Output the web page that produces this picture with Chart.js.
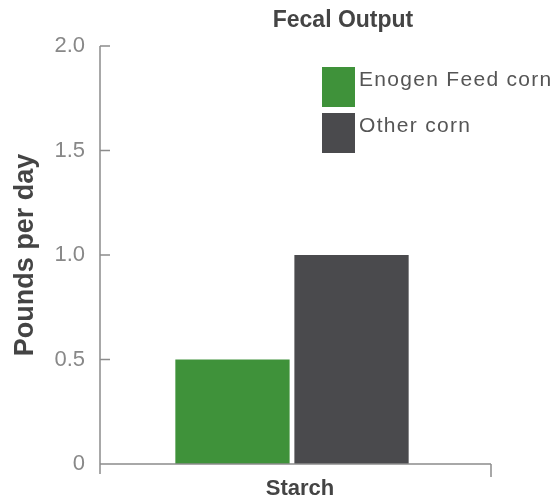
<!DOCTYPE html>
<html>
<head>
<meta charset="utf-8">
<script src="https://cdn.jsdelivr.net/npm/chart.js@4/dist/chart.umd.min.js"></script>
<style>
  html, body { margin: 0; padding: 0; background: #fff; }
  #wrap { width: 555px; height: 499px; }
</style>
</head>
<body>
<div id="wrap"><canvas id="c"></canvas></div>
<script>
// chart data
const chartTitle = 'Fecal Output';
const categories = ['Starch'];
const seriesNames = ['Enogen Feed corn', 'Other corn'];
const seriesValues = [[0.5], [1.0]];
const seriesColors = ['#3f923a', '#4a4a4d'];
const yTicks = [0, 0.5, 1.0, 1.5, 2.0];

const axisColor = '#8c8c8c';
const fontFamily = '"Liberation Sans", Arial, sans-serif';

// axis lines, inward tick marks, title and legend
const decorPlugin = {
  id: 'decorPlugin',
  afterDraw(chart) {
    const ctx = chart.ctx;
    const area = chart.chartArea;
    const y = chart.scales.y;
    ctx.save();
    ctx.strokeStyle = axisColor;
    ctx.lineWidth = 1.5;
    ctx.beginPath();
    ctx.moveTo(area.left, area.top);
    ctx.lineTo(area.left, area.bottom + 10);
    ctx.moveTo(area.left, area.bottom);
    ctx.lineTo(area.right + 7, area.bottom);
    ctx.moveTo(area.right + 7, area.bottom);
    ctx.lineTo(area.right + 7, area.bottom + 13);
    yTicks.forEach(v => {
      if (v === 0) return;
      const py = y.getPixelForValue(v);
      ctx.moveTo(area.left, py);
      ctx.lineTo(area.left + 10, py);
    });
    ctx.stroke();

    // title
    ctx.fillStyle = '#444';
    ctx.font = 'bold 23px ' + fontFamily;
    ctx.textAlign = 'center';
    ctx.textBaseline = 'alphabetic';
    ctx.fillText(chartTitle, area.left + 243, 27);

    // legend
    const lx = area.left + 222, ly = area.top + 21;
    ctx.font = '21px ' + fontFamily;
    ctx.textAlign = 'left';
    ctx.textBaseline = 'middle';
    ctx.letterSpacing = '1.3px';
    seriesNames.forEach((name, i) => {
      const top = ly + i * 46;
      ctx.fillStyle = seriesColors[i];
      ctx.fillRect(lx, top, 33, 40);
      ctx.fillStyle = '#555';
      ctx.fillText(name, lx + 37, top + 13);
    });
    ctx.restore();
  }
};

new Chart(document.getElementById('c'), {
  type: 'bar',
  data: {
    labels: categories,
    datasets: seriesNames.map((name, i) => ({
      label: name,
      data: seriesValues[i],
      backgroundColor: seriesColors[i],
      borderWidth: 0,
      barPercentage: 0.96,
      categoryPercentage: 0.62
    }))
  },
  options: {
    responsive: true,
    maintainAspectRatio: false,
    animation: false,
    layout: { padding: { left: 0, right: 71, top: 46, bottom: 0 } },
    plugins: {
      legend: { display: false },
      tooltip: { enabled: false },
      title: { display: false }
    },
    scales: {
      x: {
        grid: { display: false },
        border: { display: false },
        ticks: {
          color: '#444',
          font: { family: fontFamily, size: 22, weight: 'bold' },
          padding: 4,
          labelOffset: 8
        },
        afterFit: s => { s.height = 35; }
      },
      y: {
        min: 0,
        max: 2,
        grid: { display: false },
        border: { display: false },
        afterBuildTicks: s => { s.ticks = yTicks.map(v => ({ value: v })); },
        ticks: {
          color: '#888',
          font: { family: fontFamily, size: 22 },
          padding: 7,
          callback: v => v === 0 ? '0' : v.toFixed(1)
        },
        title: {
          display: true,
          text: 'Pounds per day',
          color: '#444',
          font: { family: fontFamily, size: 27, weight: 'bold' },
          padding: { top: 9, bottom: 0 }
        },
        afterFit: s => { s.width = 100; }
      }
    }
  },
  plugins: [decorPlugin]
});
</script>
</body>
</html>
